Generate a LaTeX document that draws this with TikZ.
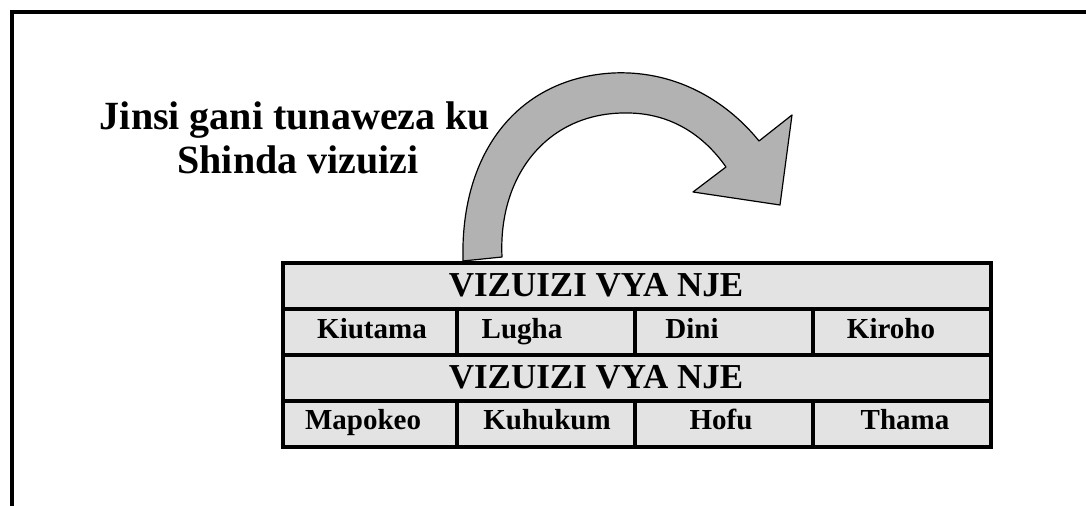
\documentclass[tikz,border=0pt]{standalone}
\usepackage{fontspec}
\setmainfont{Liberation Serif}
\usetikzlibrary{positioning}
\tikzset{
  frame/.style={line width=2pt},
  rule/.style={line width=2pt},
  bendarrow/.style={fill=arrowgray,draw=black,line width=0.6pt,line join=round},
  titletext/.style={font=\bfseries\fontsize{20}{18}\selectfont,inner sep=0pt,anchor=base},
  headtext/.style={font=\bfseries\fontsize{17.5}{19}\selectfont,inner sep=0pt,anchor=base},
  celltext/.style={font=\bfseries\fontsize{14.5}{16}\selectfont,inner sep=0pt,anchor=base}
}

\begin{document}
\begin{tikzpicture}[x={(0.5pt,0)},y={(0,-0.5pt)}]
    \colorlet{arrowgray}{black!30}
    \colorlet{cellgray}{black!11}

    \useasboundingbox (0,0) rectangle (1086,506);
    \draw [frame] (12,506) -- (12,12) -- (1086,12);

    \node [titletext] (ask) at (295,130) {Jinsi gani tunaweza ku};
    \node [titletext] (ask2) at (298,174) {Shinda vizuizi};

    % curved arrow
    \filldraw [bendarrow] (463,261)
        .. controls (460,150) and (520,78) .. (613,73)
        .. controls (680,70) and (730,105) .. (759,141)
        -- (792,115) -- (780,205) -- (693,192) -- (726,167)
        .. controls (700,130) and (665,113) .. (627,113)
        .. controls (548,112) and (498,175) .. (502,257)
        -- cycle;

    % table
    \fill [cellgray] (283,263) rectangle (991,447);
    \draw [rule] (283,263) rectangle (991,447);
    \foreach \y in {309,355,401} {
        \draw [rule] (283,\y) -- (991,\y);
    }
    \foreach \x in {457,635,813} {
        \draw [rule] (\x,309) -- (\x,355);
        \draw [rule] (\x,401) -- (\x,447);
    }

    \node [headtext] (outer1) at (596,297) {VIZUIZI VYA NJE};
    \node [headtext] (outer2) at (596,389) {VIZUIZI VYA NJE};

    \foreach \name/\x/\txt in {kiutama/372/Kiutama,lugha/522/Lugha,dini/692/Dini,kiroho/891/Kiroho} {
        \node [celltext] (\name) at (\x,339) {\txt};
    }
    \foreach \name/\x/\txt in {mapokeo/363/Mapokeo,kuhukum/547/Kuhukum,hofu/721/Hofu,thama/905/Thama} {
        \node [celltext] (\name) at (\x,430) {\txt};
    }
\end{tikzpicture}
\end{document}
